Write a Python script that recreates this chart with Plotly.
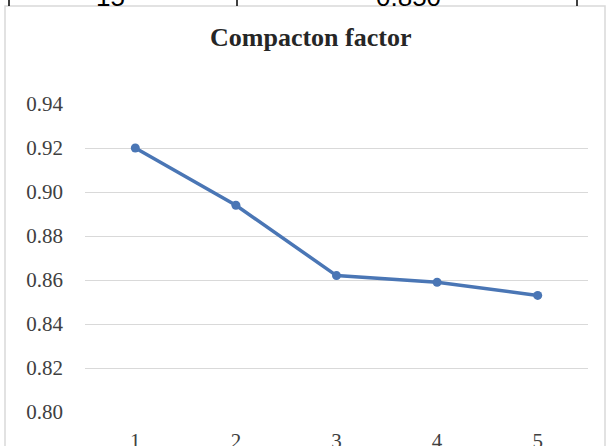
import plotly.graph_objects as go

categories = ["1", "2", "3", "4", "5"]
values = [0.920, 0.894, 0.862, 0.859, 0.853]
y_ticks = [0.80, 0.82, 0.84, 0.86, 0.88, 0.90, 0.92, 0.94]
y_tick_labels = ["0.80", "0.82", "0.84", "0.86", "0.88", "0.90", "0.92", "0.94"]
title_text = "Compacton factor"
table_cells = ["15", "0.850"]

W, H = 609, 446
def px(x):
    return x / W
def py(y):
    return 1 - y / H

fig = go.Figure()
fig.add_trace(go.Scatter(
    x=categories, y=values, mode="lines+markers",
    line=dict(color="#4a76b5", width=3.5),
    marker=dict(color="#4a76b5", size=9),
    showlegend=False, hoverinfo="skip",
))

serif = "Liberation Serif, Times New Roman, serif"

fig.update_layout(
    width=W, height=H,
    margin=dict(l=0, r=0, t=0, b=0, autoexpand=False),
    paper_bgcolor="white", plot_bgcolor="white",
    xaxis=dict(
        domain=[px(85), px(588)], type="category", automargin=False,
        range=[-0.5, len(categories) - 0.5],
        showgrid=False, zeroline=False, showline=False,
        ticks="", tickfont=dict(family=serif, size=21, color="#404040"),
        ticklabelstandoff=14,
    ),
    yaxis=dict(
        domain=[py(412), py(104)], range=[0.80, 0.94], automargin=False,
        tickvals=y_ticks, ticktext=y_tick_labels,
        showgrid=True, gridcolor="#d9d9d9", gridwidth=1,
        zeroline=False, showline=False, ticks="",
        tickfont=dict(family=serif, size=21, color="#404040"),
        ticklabelstandoff=21,
    ),
    annotations=[
        dict(text="<b>" + title_text + "</b>", xref="paper", yref="paper",
             x=px(310), y=py(37), xanchor="center", yanchor="middle",
             showarrow=False, font=dict(family=serif, size=26, color="#262626")),
        dict(text=table_cells[0], xref="paper", yref="paper",
             x=px(110), y=py(14), xanchor="center", yanchor="bottom",
             showarrow=False, font=dict(family="Liberation Sans, Arial", size=26, color="black")),
        dict(text=table_cells[1], xref="paper", yref="paper",
             x=px(408), y=py(14), xanchor="center", yanchor="bottom",
             showarrow=False, font=dict(family="Liberation Sans, Arial", size=26, color="black")),
    ],
    shapes=[
        dict(type="rect", xref="paper", yref="paper",
             x0=px(5), x1=px(605), y0=py(460), y1=py(6),
             line=dict(color="#d9d9d9", width=1.5), fillcolor="rgba(0,0,0,0)", layer="below"),
        dict(type="line", xref="paper", yref="paper",
             x0=px(9), x1=px(9), y0=py(6), y1=py(-2), line=dict(color="black", width=1.5)),
        dict(type="line", xref="paper", yref="paper",
             x0=px(237), x1=px(237), y0=py(6), y1=py(-2), line=dict(color="black", width=1.5)),
        dict(type="line", xref="paper", yref="paper",
             x0=px(577), x1=px(577), y0=py(6), y1=py(-2), line=dict(color="black", width=1.5)),
    ],
)

fig.write_html("out.html", config={"displayModeBar": False},
               post_script="document.body.style.margin='0';document.body.style.overflow='hidden';")
